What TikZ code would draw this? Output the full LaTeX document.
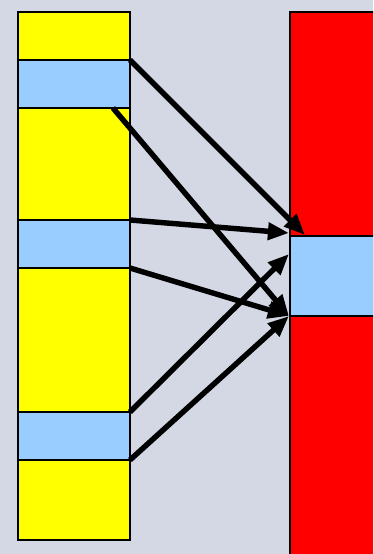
\documentclass[tikz,border=0pt]{standalone}
\usetikzlibrary{arrows.meta, calc}

\definecolor{bgcol}{RGB}{211,216,228}
\definecolor{segblue}{RGB}{153,204,255}
\definecolor{colyellow}{RGB}{255,255,0}

\tikzset{
  colbox/.style={draw=black, line width=0.8pt, inner sep=0pt, outer sep=0pt, anchor=north west},
  seg/.style={colbox, fill=segblue},
  link/.style={line width=3.1pt, -{Triangle[length=12pt, width=9.5pt]}}
}

\begin{document}
\begin{tikzpicture}[x=0.02cm, y=-0.02cm]
        \useasboundingbox (0,0) rectangle (373,554);
        \clip (0,0) rectangle (373,554);
        \fill[bgcol] (0,0) rectangle (373,554);

        % left column
        \node[colbox, fill=colyellow, minimum width=2.24cm, minimum height=10.56cm] (left) at (18,12) {};
        \node[seg, minimum width=2.24cm, minimum height=0.96cm] (a) at (18,60) {};
        \node[seg, minimum width=2.24cm, minimum height=0.96cm] (b) at (18,220) {};
        \node[seg, minimum width=2.24cm, minimum height=0.96cm] (c) at (18,412) {};

        % right column
        \node[colbox, fill=red, minimum width=2cm, minimum height=11cm] (right) at (290,12) {};
        \node[seg, minimum width=2cm, minimum height=1.6cm] (t) at (290,236) {};

        \coordinate (a1) at ($(a.south east)+(-17,0)$);
        \coordinate (t1) at ($(t.north west)+(15,-1)$);
        \coordinate (t2) at ($(t.north west)+(-1,-3)$);
        \coordinate (t3) at ($(t.north west)+(-1,18)$);
        \coordinate (t4) at ($(t.south west)+(-1,0)$);

        \draw[link] (a.north east) -- (t1);
        \draw[link] (a1) -- (t4);
        \draw[link] (b.north east) -- (t2);
        \draw[link] (b.south east) -- (t4);
        \draw[link] (c.north east) -- (t3);
        \draw[link] (c.south east) -- (t4);
\end{tikzpicture}
\end{document}
